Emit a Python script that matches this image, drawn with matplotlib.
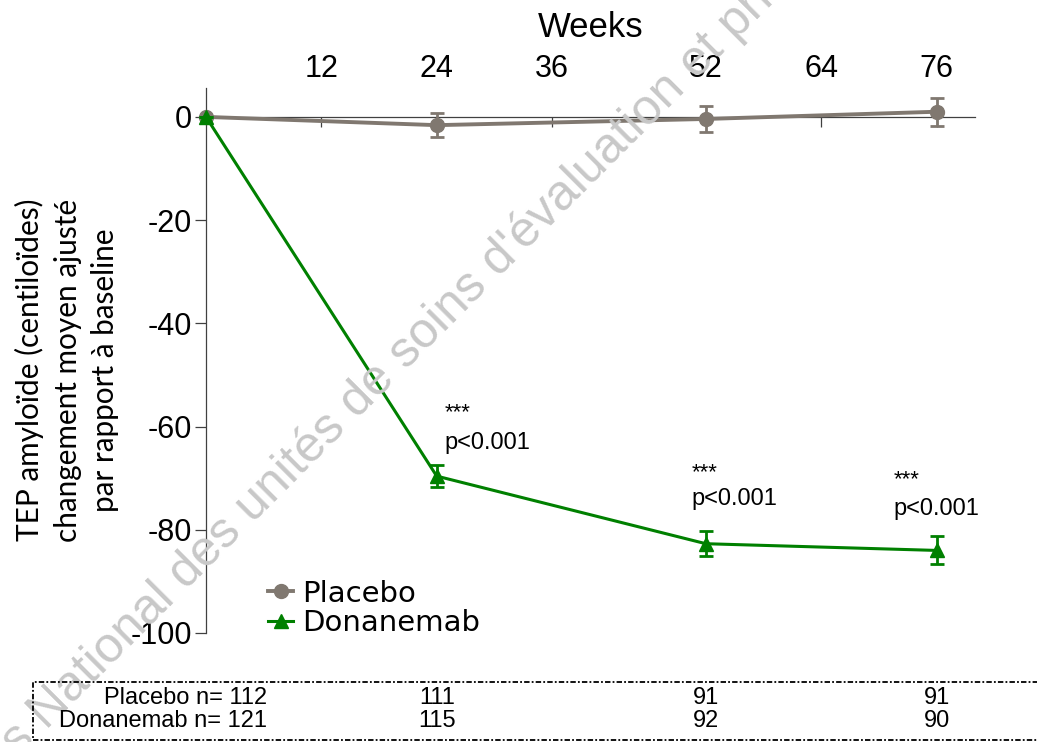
import matplotlib
matplotlib.use('Agg')
import matplotlib.pyplot as plt
from matplotlib.lines import Line2D
from matplotlib.patches import Rectangle
from matplotlib.transforms import blended_transform_factory

# Données : variation moyenne ajustée (centiloïdes) et erreur standard
weeks = [0, 24, 52, 76]
placebo_mean = [0, -1.6, -0.4, 1.0]
placebo_se = [0, 2.3, 2.5, 2.7]
donanemab_mean = [0, -69.6, -82.7, -84.0]
donanemab_se = [0, 2.2, 2.4, 2.7]

xticks = [12, 24, 36, 52, 64, 76]
yticks = [0, -20, -40, -60, -80, -100]

# p-values affichées au-dessus de chaque point Donanemab
pval_weeks = [24, 52, 76]
pval_text = ['p<0.001', 'p<0.001', 'p<0.001']
pval_x = [24.8, 50.5, 71.5]
star_y = [-58.3, -70.0, -71.4]
p_y = [-63.2, -74.0, -76.0]

# Effectifs sous la courbe
n_weeks = [24, 52, 76]
n_placebo = [111, 91, 91]
n_donanemab = [115, 92, 90]
n_placebo_base = 112
n_donanemab_base = 121

gray = '#807870'
green = '#008000'
axis_col = '#404040'

plt.rcParams['font.family'] = ['Liberation Sans', 'DejaVu Sans']
plt.rcParams['axes.unicode_minus'] = False

fig = plt.figure(figsize=(10.37, 7.42), dpi=100)
ax = fig.add_axes([206 / 1037, 1 - 633 / 742, (975 - 206) / 1037, (633 - 88) / 742])

ax.errorbar(weeks, placebo_mean, yerr=placebo_se, color=gray, lw=2.8, marker='o',
            ms=10, capsize=5, capthick=2, elinewidth=2, clip_on=False, zorder=4)
ax.errorbar(weeks, donanemab_mean, yerr=donanemab_se, color=green, lw=2.2, marker='^',
            ms=10, capsize=5, capthick=2, elinewidth=2, clip_on=False, zorder=5)

ax.set_xlim(0, 80)
ax.set_ylim(-100, 5.6)

# axe des semaines en haut, ligne à y = 0
ax.spines['bottom'].set_visible(False)
ax.spines['right'].set_visible(False)
ax.spines['top'].set_position(('data', 0))
for s in ('top', 'left'):
    ax.spines[s].set_color(axis_col)
    ax.spines[s].set_linewidth(0.9)
ax.xaxis.set_ticks_position('top')
ax.xaxis.set_label_position('top')
ax.set_xticks(xticks)
ax.tick_params(axis='x', direction='in', length=7, width=0.9, color=axis_col,
               labelsize=22, pad=24)
ax.set_yticks(yticks)
ax.tick_params(axis='y', direction='out', length=8, width=0.9, color=axis_col,
               labelsize=22, pad=2)
ax.set_xlabel('Weeks', fontsize=25, labelpad=12)

for x, txt, ys, yp in zip(pval_x, pval_text, star_y, p_y):
    ax.text(x, ys, '***', fontsize=16, ha='left', va='baseline')
    ax.text(x, yp, txt, fontsize=17, ha='left', va='center')

handles = [Line2D([], [], color=gray, lw=2.8, marker='o', ms=10),
           Line2D([], [], color=green, lw=2.2, marker='^', ms=10)]
ax.legend(handles, ['Placebo', 'Donanemab'], loc='upper left',
          bbox_to_anchor=(0.081, 0.098), frameon=False,
          prop={'family': 'DejaVu Sans', 'size': 21}, handlelength=0.85,
          handletextpad=0.3, labelspacing=0.05, borderaxespad=0, borderpad=0)

fig.text(67 / 1037, 1 - 370 / 742,
         'TEP amyloïde (centiloïdes)\nchangement moyen ajusté\npar rapport à baseline',
         rotation=90, ha='center', va='center', multialignment='center',
         fontsize=21.4, family=['Lato', 'DejaVu Sans'], linespacing=1.4)

# tableau des effectifs
fig.add_artist(Rectangle((33 / 1037, 1 - 740 / 742), 1.02, (740 - 682) / 742,
                         transform=fig.transFigure, fill=False, ec='black', lw=1.3,
                         ls=(0, (3, 1.2, 1, 1.2)), clip_on=False))
row_y = [1 - 698 / 742, 1 - 721 / 742]
fig.text(267 / 1037, row_y[0], 'Placebo n= %d' % n_placebo_base, ha='right', va='center',
         fontsize=17)
fig.text(267 / 1037, row_y[1], 'Donanemab n= %d' % n_donanemab_base, ha='right', va='center',
         fontsize=17)
tr = blended_transform_factory(ax.transData, fig.transFigure)
for w, a, b in zip(n_weeks, n_placebo, n_donanemab):
    ax.text(w, row_y[0], str(a), transform=tr, ha='center', va='center', fontsize=17,
            clip_on=False)
    ax.text(w, row_y[1], str(b), transform=tr, ha='center', va='center', fontsize=17,
            clip_on=False)

# filigrane en diagonale
fig.text(-97 / 1037, 1 - 874 / 742,
         "Congrès National des unités de soins d'évaluation et prise en charge Alzheimer",
         rotation=45, rotation_mode='anchor', ha='left', va='baseline', fontsize=36,
         color='#c8c8c8', zorder=0)

fig.savefig('out.png', dpi=100)
